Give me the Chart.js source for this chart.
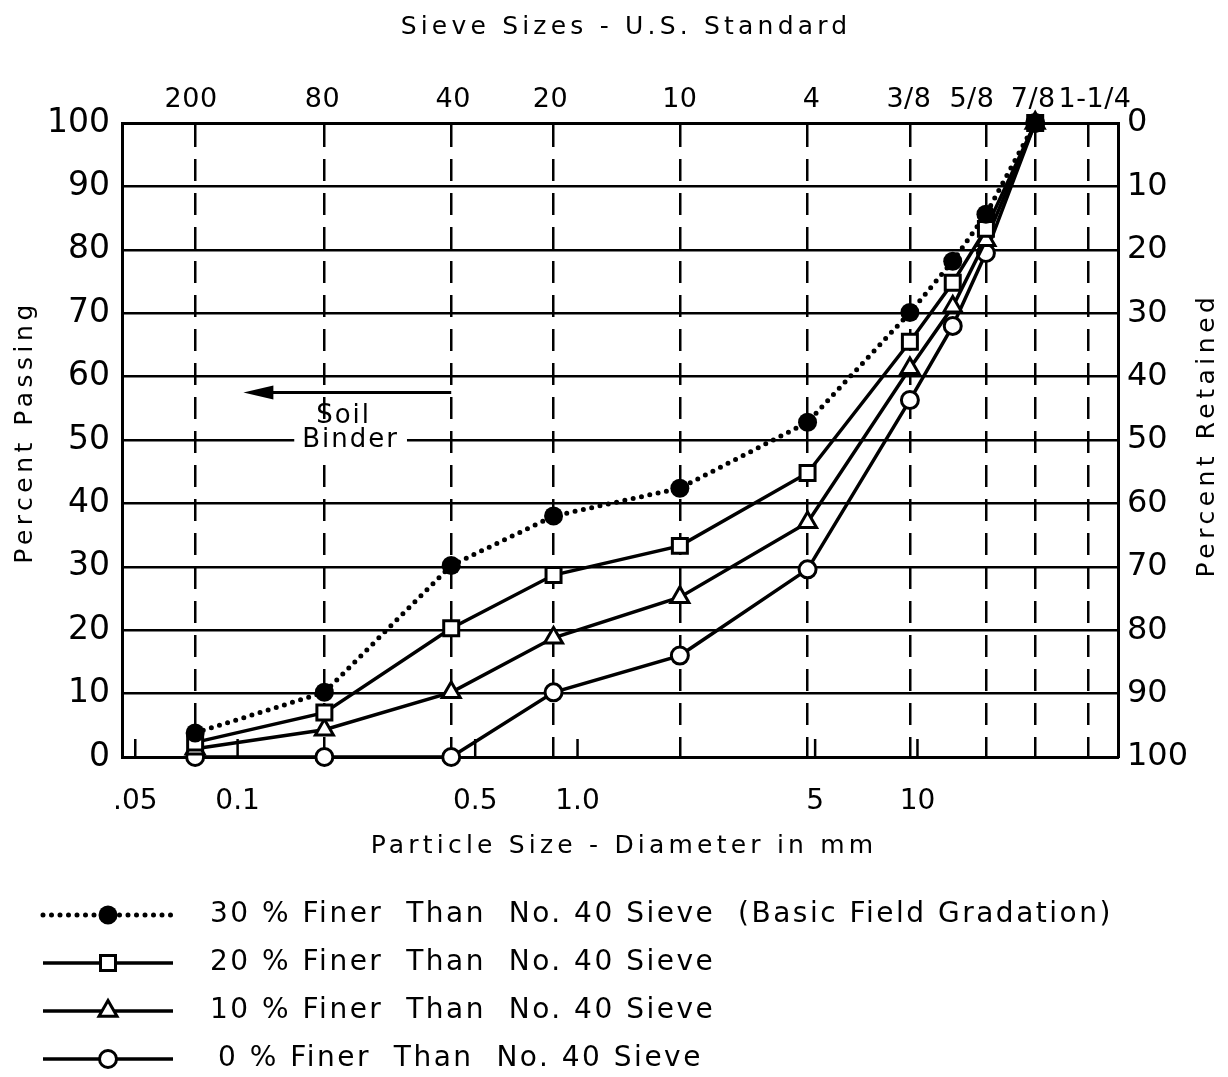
<!DOCTYPE html>
<html lang="en">
<head>
<meta charset="UTF-8">
<title>Gradation curves - Percent Passing vs Particle Size</title>
<script src="https://cdn.jsdelivr.net/npm/chart.js"></script>
<style>
  body { margin: 0; background: #fff; }
  #wrap { width: 1228px; height: 1077px; position: relative; }
</style>
</head>
<body>
<div id="wrap"><canvas id="gradChart"></canvas></div>
<script>
// sample sizes in mm: sieves 200, 80, 40, 20, 10, 4, 3/8", 1/2", 5/8", 7/8"
const sizesMm = [0.075, 0.18, 0.425, 0.85, 2.0, 4.75, 9.5, 12.7, 15.9, 22.2];
const finer30 = [3.8, 10.2, 30.2, 38.0, 42.4, 52.8, 70.1, 78.2, 85.6, 100];
const finer20 = [2.3, 7.0, 20.3, 28.7, 33.3, 44.8, 65.5, 74.8, 83.3, 100];
const finer10 = [1.3, 4.3, 10.2, 18.8, 25.2, 37.0, 61.3, 71.0, 81.5, 100];
const finer0  = [0, 0, 0, 10.2, 16.0, 29.6, 56.3, 68.0, 79.5, 100];

const seriesLabels = [
  '30 % Finer  Than  No. 40 Sieve  (Basic Field Gradation)',
  '20 % Finer  Than  No. 40 Sieve',
  '10 % Finer  Than  No. 40 Sieve',
  '0 % Finer  Than  No. 40 Sieve'
];

// top axis: U.S. standard sieves
const sieveMm = [0.075, 0.18, 0.425, 0.85, 2.0, 4.75, 9.5, 15.9, 22.2, 31.75];
const sieveLabels = ['200', '80', '40', '20', '10', '4', '3/8', '5/8', '7/8', '1-1/4'];

// bottom axis: diameter in mm
const mmTicks = [0.05, 0.1, 0.5, 1, 5, 10];
const mmLabels = ['.05', '0.1', '0.5', '1.0', '5', '10'];

const xMin = 0.0457, xMax = 38.9;

// "Soil Binder" note, in data units
const binderFrom = 0.425, binderTip = 0.104, binderLevel = 57.5;
const soilText = { x: 0.205, y: 53.8 }, binderText = { x: 0.215, y: 50 };

const FONT = '"DejaVu Sans", sans-serif';
Chart.defaults.font.family = FONT;
Chart.defaults.color = '#000';

// small nudges so the crowded sieve labels don't collide (px)
const sieveLabelNudge = [-4, -2, 2, -3, 0, 4, -1, -14, -2, 7];

const toPoints = ys => sizesMm.map((x, i) => ({ x: x, y: ys[i] }));

const lineSet = (label, ys, style, radius) => ({
  label: label,
  data: toPoints(ys),
  xAxisID: 'x',
  yAxisID: 'y',
  borderColor: '#000',
  borderWidth: 3.5,
  pointStyle: style,
  pointRadius: radius,
  pointHoverRadius: radius,
  pointBackgroundColor: '#fff',
  pointBorderColor: '#000',
  pointBorderWidth: 3,
  clip: false,
  tension: 0
});

const ds30 = lineSet(seriesLabels[0], finer30, 'circle', 9.5);
ds30.borderWidth = 5;
ds30.borderDash = [0, 8.5];
ds30.borderCapStyle = 'round';
ds30.pointBackgroundColor = '#000';
ds30.pointBorderWidth = 0;

const datasets = [
  ds30,
  lineSet(seriesLabels[1], finer20, 'rect', 10.6),
  lineSet(seriesLabels[2], finer10, 'triangle', 10.4),
  lineSet(seriesLabels[3], finer0, 'circle', 8.5)
];

const extras = {
  id: 'extras',
  afterDraw(chart) {
    const ctx = chart.ctx;
    const x = chart.scales.x, xTop = chart.scales.xTop, y = chart.scales.y;
    const area = chart.chartArea;
    const midX = (area.left + area.right) / 2, midY = (area.top + area.bottom) / 2;
    ctx.save();
    ctx.strokeStyle = '#000';
    ctx.fillStyle = '#000';

    // inward ticks on bottom axis
    ctx.lineWidth = 2.5;
    mmTicks.forEach(v => {
      const px = x.getPixelForValue(v);
      ctx.beginPath();
      ctx.moveTo(px, area.bottom);
      ctx.lineTo(px, area.bottom - 18);
      ctx.stroke();
    });

    // sieve labels along the top
    ctx.font = '27px ' + FONT;
    ctx.letterSpacing = '0.5px';
    ctx.textAlign = 'center';
    ctx.textBaseline = 'middle';
    sieveMm.forEach((v, i) => {
      ctx.fillText(sieveLabels[i], xTop.getPixelForValue(v) + sieveLabelNudge[i], area.top - 23);
    });

    // Soil Binder arrow
    const ay = y.getPixelForValue(binderLevel);
    const ax1 = x.getPixelForValue(binderFrom), ax2 = x.getPixelForValue(binderTip);
    ctx.lineWidth = 3;
    ctx.beginPath();
    ctx.moveTo(ax1, ay);
    ctx.lineTo(ax2 + 20, ay);
    ctx.stroke();
    ctx.beginPath();
    ctx.moveTo(ax2, ay);
    ctx.lineTo(ax2 + 30, ay - 7);
    ctx.lineTo(ax2 + 30, ay + 7);
    ctx.closePath();
    ctx.fill();

    ctx.font = '26px ' + FONT;
    ctx.letterSpacing = '2px';
    ctx.fillText('Soil', x.getPixelForValue(soilText.x), y.getPixelForValue(soilText.y));
    const bx = x.getPixelForValue(binderText.x), by = y.getPixelForValue(binderText.y);
    const bw = ctx.measureText('Binder').width + 16;
    ctx.fillStyle = '#fff';
    ctx.fillRect(bx - bw / 2, by - 16, bw, 32);
    ctx.fillStyle = '#000';
    ctx.fillText('Binder', bx, by);

    // axis titles
    ctx.font = '25px ' + FONT;
    ctx.letterSpacing = '4.2px';
    ctx.fillText('Sieve Sizes - U.S. Standard', midX + 6, 27);
    ctx.fillText('Particle Size - Diameter in mm', midX + 4, 846);
    ctx.letterSpacing = '4.5px';
    ctx.save();
    ctx.translate(25, midY - 8);
    ctx.rotate(-Math.PI / 2);
    ctx.fillText('Percent Passing', 0, 0);
    ctx.restore();
    ctx.save();
    ctx.translate(chart.width - 21, midY - 5);
    ctx.rotate(-Math.PI / 2);
    ctx.fillText('Percent Retained', 0, 0);
    ctx.restore();
    ctx.restore();

    // legend, one row per series
    ctx.save();
    ctx.font = '28px ' + FONT;
    ctx.letterSpacing = '2.5px';
    ctx.textBaseline = 'middle';
    ctx.textAlign = 'left';
    chart.data.datasets.forEach((ds, i) => {
      const ry = 915 + i * 48;
      ctx.strokeStyle = '#000';
      ctx.lineWidth = ds.borderWidth;
      ctx.lineCap = ds.borderCapStyle || 'butt';
      ctx.setLineDash(ds.borderDash || []);
      ctx.beginPath();
      ctx.moveTo(43, ry);
      ctx.lineTo(173, ry);
      ctx.stroke();
      ctx.setLineDash([]);
      ctx.fillStyle = ds.pointBackgroundColor;
      ctx.lineWidth = ds.pointBorderWidth;
      Chart.helpers.drawPoint(ctx, {
        pointStyle: ds.pointStyle, radius: ds.pointRadius, rotation: 0,
        borderWidth: ds.pointBorderWidth
      }, 108, ry);
      ctx.fillStyle = '#000';
      ctx.fillText(ds.label, i === 3 ? 218 : 210, ry);
    });
    ctx.restore();
  }
};

new Chart(document.getElementById('gradChart'), {
  type: 'line',
  data: { datasets: datasets },
  options: {
    responsive: true,
    maintainAspectRatio: false,
    animation: false,
    layout: { padding: { left: 0, right: 0, top: 0, bottom: 207 } },
    plugins: { legend: { display: false }, tooltip: { enabled: false } },
    scales: {
      x: {
        type: 'logarithmic', position: 'bottom', min: xMin, max: xMax, bounds: 'data',
        afterBuildTicks: s => { s.ticks = mmTicks.map(v => ({ value: v })); },
        ticks: { autoSkip: false, maxRotation: 0, minRotation: 0, padding: 20,
                 font: { size: 28 }, callback: (v, i) => mmLabels[i] },
        grid: { display: false },
        border: { display: true, color: '#000', width: 3 },
        afterFit: s => { s.height = 113; }
      },
      xTop: {
        type: 'logarithmic', position: 'top', min: xMin, max: xMax, bounds: 'data',
        afterBuildTicks: s => { s.ticks = sieveMm.map(v => ({ value: v })); },
        ticks: { display: false },
        grid: { color: '#000', lineWidth: 2.5, drawTicks: false },
        border: { display: true, color: '#000', width: 3, dash: [22, 12] },
        afterFit: s => { s.height = 123; }
      },
      y: {
        position: 'left', min: 0, max: 100,
        ticks: { stepSize: 10, padding: 12, font: { size: 33 } },
        grid: { color: '#000', lineWidth: 2.5, drawTicks: false },
        border: { display: true, color: '#000', width: 3 },
        afterFit: s => { s.width = 122; }
      },
      yRight: {
        position: 'right', min: 0, max: 100, reverse: true,
        ticks: { stepSize: 10, padding: 9, font: { size: 32 } },
        grid: { drawOnChartArea: false, drawTicks: false },
        border: { display: true, color: '#000', width: 3 },
        afterFit: s => { s.width = 110; }
      }
    }
  },
  plugins: [extras]
});
</script>
</body>
</html>
